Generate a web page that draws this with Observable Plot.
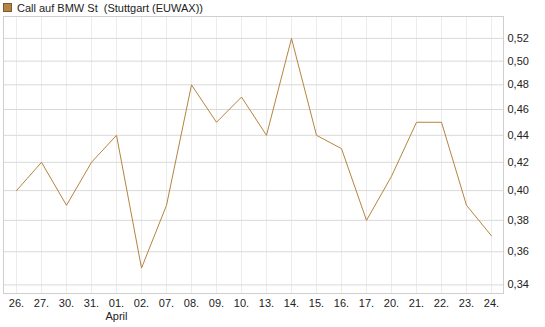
<!DOCTYPE html>
<html>
<head>
<meta charset="utf-8">
<script src="https://cdn.jsdelivr.net/npm/d3@7"></script>
<script src="https://cdn.jsdelivr.net/npm/@observablehq/plot@0.6"></script>
<style>
  body { margin: 0; background: #fff; font-family: "Liberation Sans", Arial, sans-serif; }
  #legend { height: 15px; font-size: 11px; color: #222; display: flex; align-items: center; padding-left: 3px; white-space: pre; }
  #legend .sw { width: 9px; height: 9px; background: #b5843f; border: 1px solid #7a5a30; margin-right: 5px; box-sizing: border-box; }
  #chart svg { display: block; }
</style>
</head>
<body>
<div id="legend"><span class="sw"></span><span>Call auf BMW St  (Stuttgart (EUWAX))</span></div>
<div id="chart"></div>
<script>
const dates = ["26.", "27.", "30.", "31.", "01.", "02.", "07.", "08.", "09.", "10.", "13.", "14.", "15.", "16.", "17.", "20.", "21.", "22.", "23.", "24."];
const prices = [0.40, 0.42, 0.39, 0.42, 0.44, 0.35, 0.39, 0.48, 0.45, 0.47, 0.44, 0.52, 0.44, 0.43, 0.38, 0.41, 0.45, 0.45, 0.39, 0.37];
const yTicks = [0.34, 0.36, 0.38, 0.40, 0.42, 0.44, 0.46, 0.48, 0.50, 0.52];
const monthLabels = [{date: "01.", text: "April"}];
const lineColor = "#b5843f";

const data = dates.map((d, i) => ({date: d, price: prices[i]}));
const fmt = v => v.toFixed(2).replace(".", ",");

const chart = Plot.plot({
  width: 545,
  height: 312,
  marginTop: 1,
  marginLeft: 3,
  marginRight: 42,
  marginBottom: 34,
  style: {fontFamily: "Liberation Sans, Arial, sans-serif", fontSize: "11px", color: "#222", background: "#fff"},
  x: {type: "point", domain: dates, padding: 0.5, label: null},
  y: {type: "log", domain: [0.335, 0.540], label: null},
  marks: [
    Plot.ruleX(dates, {x: d => d, stroke: "#ececec", strokeWidth: 1}),
    Plot.ruleY(yTicks, {y: d => d, stroke: "#d9d9d9", strokeWidth: 1}),
    Plot.frame({stroke: "#cfcfcf", strokeWidth: 1}),
    Plot.line(data, {x: "date", y: "price", stroke: lineColor, strokeWidth: 1}),
    Plot.axisX({tickSize: 0, tickPadding: 6, fontSize: 11, fill: "#222", label: null}),
    Plot.text(monthLabels, {x: "date", text: "text", frameAnchor: "bottom", dy: 26, fontSize: 11, fill: "#222"}),
    Plot.axisY({anchor: "right", ticks: yTicks, tickFormat: fmt, tickSize: 0, tickPadding: 4, fontSize: 11, fill: "#222", label: null})
  ]
});
document.getElementById("chart").appendChild(chart);
</script>
</body>
</html>
